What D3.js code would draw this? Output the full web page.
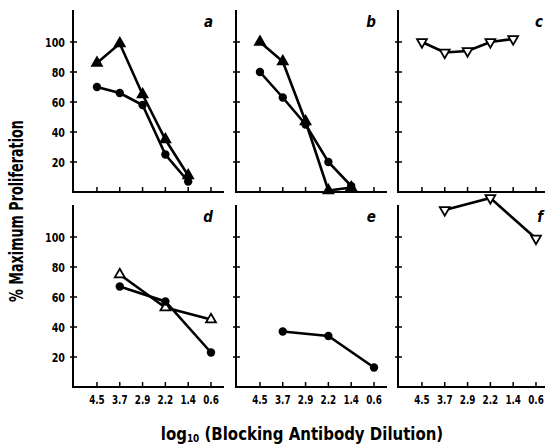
<!DOCTYPE html>
<html><head><meta charset="utf-8">
<script src="https://cdn.jsdelivr.net/npm/d3@7"></script>
<style>
body{margin:0;background:#fff;}
text{font-family:"Liberation Sans Narrow","DejaVu Sans Condensed","Arial Narrow",sans-serif;font-weight:bold;fill:#000;}
</style></head>
<body><svg id="c" width="545" height="446"></svg>
<script>
const xLabels = ["4.5","3.7","2.9","2.2","1.4","0.6"];
const yTicks = [20,40,60,80,100];
const panelNames = ["a","b","c","d","e","f"];
const fullIdx = [0,1,2,3,4];
const partIdx = [1,3,5];
const aTriangle = [86, 99, 65, 35, 11];
const aCircle = [70, 66, 58, 25, 7];
const bTriangle = [100, 87, 47, 1, 3];
const bCircle = [80, 63, 45, 20, 4];
const cTriangleDown = [100, 93, 94, 100, 102];
const dTriangle = [75, 53, 45];
const dCircle = [67, 57, 23];
const eCircle = [37, 34, 13];
const fTriangleDown = [118, 126, 99];

const series = {
  a: [{idx: fullIdx, v: aTriangle, m: "triUp", fill: true}, {idx: fullIdx, v: aCircle, m: "circle", fill: true}],
  b: [{idx: fullIdx, v: bTriangle, m: "triUp", fill: true}, {idx: fullIdx, v: bCircle, m: "circle", fill: true}],
  c: [{idx: fullIdx, v: cTriangleDown, m: "triDown", fill: false}],
  d: [{idx: partIdx, v: dTriangle, m: "triUp", fill: false}, {idx: partIdx, v: dCircle, m: "circle", fill: true}],
  e: [{idx: partIdx, v: eCircle, m: "circle", fill: true}],
  f: [{idx: partIdx, v: fTriangleDown, m: "triDown", fill: false}]
};

const svg = d3.select("#c");
const colX = [73, 236, 398];
const rowBase = [192, 387];
const W = 151;
const x = d3.scaleLinear().domain([-1.05, 5.57]).range([0, W]);
const y = d3.scaleLinear().domain([0, 120]).range([0, -180]);

panelNames.forEach((name, k) => {
  const col = k % 3, row = Math.floor(k / 3);
  const g = svg.append("g").attr("transform", `translate(${colX[col]},${rowBase[row]})`);
  g.append("line").attr("x1", 0).attr("x2", 0).attr("y1", 1).attr("y2", -182)
    .attr("stroke", "#000").attr("stroke-width", 2);
  g.append("line").attr("x1", -1).attr("x2", W).attr("y1", 0).attr("y2", 0)
    .attr("stroke", "#000").attr("stroke-width", 2);
  yTicks.forEach(t => {
    g.append("line").attr("x1", -3).attr("x2", 4).attr("y1", y(t)).attr("y2", y(t))
      .attr("stroke", "#000").attr("stroke-width", 1.5);
    if (col === 0) {
      g.append("text").attr("transform", `translate(-8,${y(t)}) scale(0.82,1)`).attr("dy", "0.37em")
        .attr("text-anchor", "end").attr("font-size", 13).text(t);
    }
  });
  xLabels.forEach((lab, i) => {
    g.append("line").attr("x1", x(i)).attr("x2", x(i)).attr("y1", 0).attr("y2", -5)
      .attr("stroke", "#000").attr("stroke-width", 1.5);
    if (row === 1) {
      g.append("text").attr("transform", `translate(${x(i)},17) scale(0.85,1)`).attr("text-anchor", "middle")
        .attr("font-size", 11.5).text(lab);
    }
  });
  g.append("text").attr("x", col === 2 ? 145 : 140).attr("y", -165)
    .attr("text-anchor", "end").attr("font-size", 15).attr("font-style", "italic")
    .text(name);
  const line = d3.line().x(d => x(d[0])).y(d => y(d[1]));
  series[name].forEach(s => {
    const pts = s.idx.map((ix, j) => [ix, s.v[j]]);
    g.append("path").datum(pts).attr("d", line).attr("fill", "none")
      .attr("stroke", "#000").attr("stroke-width", 2.6);
    pts.forEach(p => {
      const px = x(p[0]), py = y(p[1]);
      if (s.m === "circle") {
        g.append("circle").attr("cx", px).attr("cy", py).attr("r", 4.2).attr("fill", "#000");
      } else {
        const sym = d3.symbol().type(d3.symbolTriangle).size(42)();
        g.append("path").attr("d", sym)
          .attr("transform", `translate(${px},${py})` + (s.m === "triDown" ? " rotate(180)" : ""))
          .attr("fill", s.fill ? "#000" : "#fff").attr("stroke", "#000").attr("stroke-width", 1.8);
      }
    });
  });
});

svg.append("text").attr("transform", "translate(23,211) rotate(-90) scale(0.71,1)")
  .attr("text-anchor", "middle").attr("font-size", 20)
  .text("% Maximum Proliferation");
const xt = svg.append("text").attr("transform", "translate(302,440) scale(0.9,1)")
  .attr("text-anchor", "middle").attr("font-size", 18.5);
xt.append("tspan").text("log");
xt.append("tspan").attr("font-size", 11).attr("dy", 2).text("10");
xt.append("tspan").attr("dy", -2).text(" (Blocking Antibody Dilution)");
</script></body></html>
